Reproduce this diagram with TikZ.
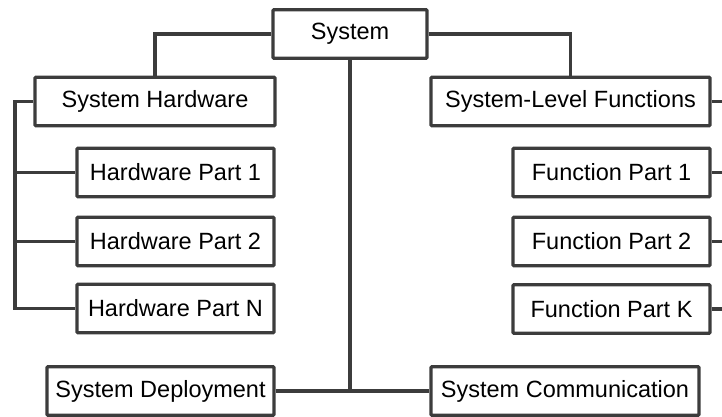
\documentclass[tikz,border=0pt]{standalone}
\usepackage{fontspec}
\setmainfont{Liberation Sans}
\definecolor{edge}{RGB}{60,60,60}
\tikzset{
  box/.style={draw=edge, line width=3.3pt, fill=white, inner sep=0pt, minimum height=48.5pt,
    align=center, font=\fontsize{23.5}{28}\selectfont, text=black, rounded corners=1pt},
  conn/.style={draw=edge, line width=3.6pt}
}
\begin{document}
\begin{tikzpicture}[x=1pt,y=1pt]
\useasboundingbox (0,0) rectangle (722,-416);
% nodes
\node[box, minimum width=154pt] (sys) at (350,-34) {System};
\node[box, minimum width=240pt] (shw) at (155,-101.5) {System Hardware};
\node[box, minimum width=279pt] (slf) at (570.5,-101.5) {System-Level Functions};
\node[box, minimum width=197pt] (hp1) at (175.5,-172.5) {Hardware Part 1};
\node[box, minimum width=197pt] (hp2) at (175.5,-241.5) {Hardware Part 2};
\node[box, minimum width=197pt] (hpn) at (175.5,-308.5) {Hardware Part N};
\node[box, minimum width=197pt] (fp1) at (611.5,-172.5) {Function Part 1};
\node[box, minimum width=197pt] (fp2) at (611.5,-241.5) {Function Part 2};
\node[box, minimum width=197pt] (fpk) at (611.5,-309) {Function Part K};
\node[box, minimum width=227pt] (dep) at (160.5,-391) {System Deployment};
\node[box, minimum width=268pt] (com) at (565,-391) {System Communication};
% helper coordinates
\coordinate (lbus) at (15,-101.5);
\coordinate (rbus) at (726,-101.5);
\coordinate (junc) at (350,-391);
% connectors
\draw[conn] (sys.west) -| (shw.north);
\draw[conn] (sys.east) -| (slf.north);
\draw[conn] (sys.south) -- (junc);
\draw[conn] (dep.east) -- (junc) -- (com.west);
\draw[conn] (shw.west) -- (lbus) |- (hpn.west);
\draw[conn] (hp1.west) -- (hp1.west -| lbus);
\draw[conn] (hp2.west) -- (hp2.west -| lbus);
\draw[conn] (slf.east) -- (rbus);
\draw[conn] (fp1.east) -- (fp1.east -| rbus);
\draw[conn] (fp2.east) -- (fp2.east -| rbus);
\draw[conn] (fpk.east) -- (fpk.east -| rbus);
\end{tikzpicture}
\end{document}
